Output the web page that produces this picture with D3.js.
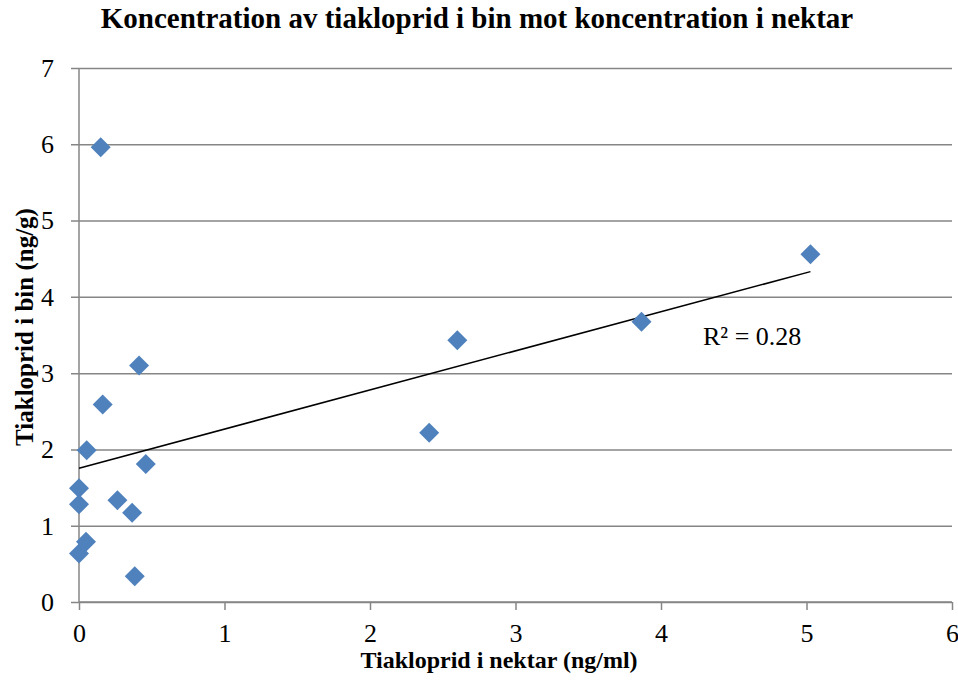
<!DOCTYPE html>
<html>
<head>
<meta charset="utf-8">
<script src="https://cdn.jsdelivr.net/npm/d3@7"></script>
<style>
  body { margin: 0; background: #fff; }
  text { font-family: 'Liberation Serif', 'Times New Roman', serif; fill: #000; }
</style>
</head>
<body>
<svg id="chart" width="958" height="688"></svg>
<script>
// data
let nektar = [0, 0, 0, 0.048, 0.053, 0.163, 0.264, 0.365, 0.383, 0.413, 0.459, 0.149, 2.60, 2.407, 3.866, 5.027];
let bin = [1.49, 1.28, 0.635, 0.79, 1.99, 2.59, 1.335, 1.17, 0.337, 3.10, 1.81, 5.96, 3.43, 2.22, 3.675, 4.56];
let xTicks = [0, 1, 2, 3, 4, 5, 6];
let yTicks = [0, 1, 2, 3, 4, 5, 6, 7];
let r2Label = 'R² = 0.28';

let plotLeft = 79;
let plotRight = 952;
let plotTop = 68;
let plotBottom = 602;
let gridColor = '#868686';
let pointColor = '#4F81BD';

const svg = d3.select('#chart');

let x = d3.scaleLinear().domain([0, 6]).range([plotLeft, plotRight]);
let y = d3.scaleLinear().domain([0, 7]).range([plotBottom, plotTop]);

// horizontal gridlines + y axis
let yAxis = d3.axisLeft(y).tickValues(yTicks).tickFormat(d3.format('d')).tickSize(0);
let gy = svg.append('g')
  .attr('transform', 'translate(' + plotLeft + ',0)')
  .call(yAxis);
gy.select('.domain').remove();
gy.selectAll('.tick line')
  .attr('x1', -8)
  .attr('x2', plotRight - plotLeft)
  .attr('stroke', gridColor)
  .attr('stroke-width', 1.5);
gy.selectAll('text')
  .style('font-size', '26px')
  .attr('x', -25);

// left vertical axis line
svg.append('line')
  .attr('x1', plotLeft).attr('x2', plotLeft)
  .attr('y1', plotTop).attr('y2', plotBottom)
  .attr('stroke', gridColor)
  .attr('stroke-width', 1.5);

// x axis
let xAxis = d3.axisBottom(x).tickValues(xTicks).tickFormat(d3.format('d')).tickSize(8);
let gx = svg.append('g')
  .attr('transform', 'translate(0,' + plotBottom + ')')
  .call(xAxis);
gx.select('.domain')
  .attr('stroke', gridColor)
  .attr('stroke-width', 1.5)
  .attr('d', 'M' + plotLeft + ',0H' + plotRight);
gx.selectAll('line')
  .attr('stroke', gridColor)
  .attr('stroke-width', 1.5);
gx.selectAll('text')
  .style('font-size', '26px')
  .attr('y', 40)
  .attr('dy', 0);

// linear trendline (least squares)
let mx = d3.mean(nektar);
let my = d3.mean(bin);
let sxy = d3.sum(nektar, (d, i) => (d - mx) * (bin[i] - my));
let sxx = d3.sum(nektar, d => (d - mx) * (d - mx));
let slope = sxy / sxx;
let intercept = my - slope * mx;
let x0 = 0;
let x1 = d3.max(nektar);
svg.append('line')
  .attr('x1', x(x0)).attr('y1', y(intercept + slope * x0))
  .attr('x2', x(x1)).attr('y2', y(intercept + slope * x1))
  .attr('stroke', '#000')
  .attr('stroke-width', 1.5);

// diamond markers
let diamond = d3.symbol().type(d3.symbolSquare).size(200);
svg.selectAll('.pt')
  .data(nektar)
  .enter()
  .append('path')
  .attr('class', 'pt')
  .attr('d', diamond)
  .attr('transform', (d, i) => 'translate(' + x(d) + ',' + y(bin[i]) + ') rotate(45)')
  .attr('fill', pointColor);

svg.append('text')
  .attr('x', 703)
  .attr('y', 345)
  .style('font-size', '26px')
  .text(r2Label);

// titles
svg.append('text')
  .attr('x', 477)
  .attr('y', 28)
  .attr('text-anchor', 'middle')
  .style('font-size', '29px')
  .style('font-weight', 'bold')
  .text('Koncentration av tiakloprid i bin mot koncentration i nektar');

svg.append('text')
  .attr('x', 499)
  .attr('y', 668)
  .attr('text-anchor', 'middle')
  .style('font-size', '24px')
  .style('font-weight', 'bold')
  .text('Tiakloprid i nektar (ng/ml)');

svg.append('text')
  .attr('transform', 'translate(33,327) rotate(-90)')
  .attr('text-anchor', 'middle')
  .style('font-size', '25px')
  .style('font-weight', 'bold')
  .text('Tiakloprid i bin (ng/g)');
</script>
</body>
</html>
